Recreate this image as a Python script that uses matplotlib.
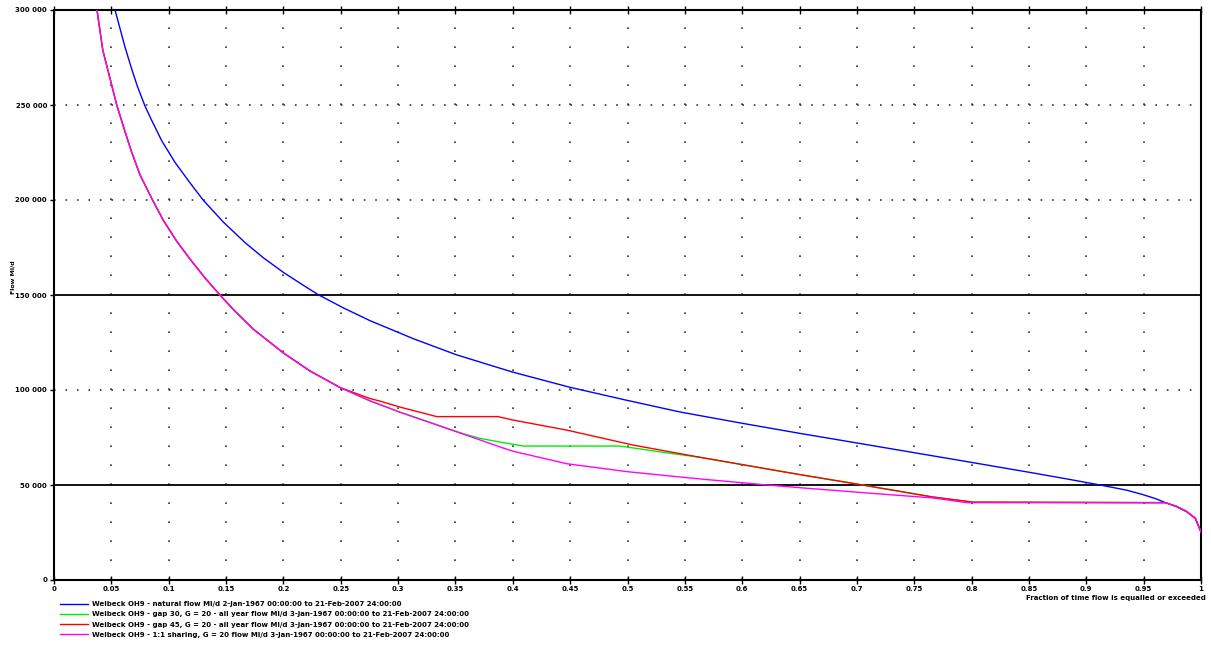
import numpy as np
import matplotlib
matplotlib.use("Agg")
import matplotlib.pyplot as plt
from matplotlib.ticker import FuncFormatter

plt.rcParams['font.family'] = ['DejaVu Sans']
plt.rcParams['lines.scale_dashes'] = False

# ---------------- data ----------------
natural_x = [0.0532, 0.0619, 0.0677, 0.0726, 0.0793, 0.0851, 0.0939, 0.1055, 0.1186,
             0.130, 0.1476, 0.1665, 0.1825, 0.200, 0.2174, 0.230, 0.2523, 0.2755,
             0.3133, 0.351, 0.400, 0.450, 0.4993, 0.546, 0.598, 0.650, 0.709,
             0.752, 0.796, 0.854, 0.883, 0.912, 0.935, 0.949, 0.960, 0.969, 0.979,
             0.9875, 0.995, 1.000]
natural_y = [300000, 280500, 269000, 260000, 249500, 242000, 231200, 219800, 209000,
             200000, 188400, 177600, 169600, 161900, 155100, 150300, 143200, 136500,
             127000, 118500, 109400, 101400, 94600, 88400, 82700, 77200, 71200,
             66800, 62300, 56300, 53200, 50000, 47300, 45000, 42900, 40700, 38600,
             36000, 32500, 25300]

sharing_x = [0.0375, 0.0425, 0.0547, 0.0619, 0.0677, 0.075, 0.0859, 0.0953, 0.107,
             0.1186, 0.1316, 0.1447, 0.1563, 0.1738, 0.200, 0.2232, 0.2494, 0.2755,
             0.3017, 0.351, 0.389, 0.400, 0.447, 0.500, 0.546, 0.563, 0.622,
             0.650, 0.709, 0.766, 0.796, 0.969, 0.979, 0.9875, 0.995, 1.000]
sharing_y = [300000, 279000, 250000, 236000, 225200, 213200, 200000, 189300, 178300,
             168900, 159000, 150000, 142400, 132000, 119500, 110000, 101300, 94300,
             88300, 78000, 70000, 67800, 61200, 57000, 54200, 53200, 50000,
             48600, 45800, 43200, 40700, 40700, 38600, 36000, 32500, 25300]

gap45_x = [0.0375, 0.0425, 0.0547, 0.0619, 0.0677, 0.075, 0.0859, 0.0953, 0.107,
           0.1186, 0.1316, 0.1447, 0.1563, 0.1738, 0.200, 0.2232, 0.2494, 0.2755,
           0.284, 0.3017, 0.319, 0.3336, 0.387, 0.400, 0.447, 0.505, 0.563,
           0.650, 0.700, 0.766, 0.801, 0.969, 0.979, 0.9875, 0.995, 1.000]
gap45_y = [300000, 279000, 250000, 236000, 225200, 213200, 200000, 189300, 178300,
           168900, 159000, 150000, 142400, 132000, 119500, 110000, 101300, 95500,
           94200, 91000, 88300, 86000, 86000, 84200, 78900, 71000, 64600,
           55500, 50500, 43700, 41000, 40700, 38600, 36000, 32500, 25300]

gap30_x = [0.0375, 0.0425, 0.0547, 0.0619, 0.0677, 0.075, 0.0859, 0.0953, 0.107,
           0.1186, 0.1316, 0.1447, 0.1563, 0.1738, 0.200, 0.2232, 0.2494, 0.2755,
           0.3017, 0.330, 0.354, 0.371, 0.389, 0.409, 0.493, 0.505, 0.531,
           0.563, 0.650, 0.700, 0.766, 0.801, 0.969, 0.979, 0.9875, 0.995, 1.000]
gap30_y = [300000, 279000, 250000, 236000, 225200, 213200, 200000, 189300, 178300,
           168900, 159000, 150000, 142400, 132000, 119500, 110000, 101300, 94300,
           88300, 82500, 77500, 74600, 72600, 70500, 70500, 69500, 67200,
           64600, 55500, 50500, 43700, 41000, 40700, 38600, 36000, 32500, 25300]

labels = [
    "Welbeck OH9 - natural flow Ml/d 2-Jan-1967 00:00:00 to 21-Feb-2007 24:00:00",
    "Welbeck OH9 - gap 30, G = 20 - all year flow Ml/d 3-Jan-1967 00:00:00 to 21-Feb-2007 24:00:00",
    "Welbeck OH9 - gap 45, G = 20 - all year flow Ml/d 3-Jan-1967 00:00:00 to 21-Feb-2007 24:00:00",
    "Welbeck OH9 - 1:1 sharing, G = 20 flow Ml/d 3-Jan-1967 00:00:00 to 21-Feb-2007 24:00:00",
]
colors = ['#0000ff', '#00ee00', '#ff0000', '#ff00ff']

xticks = np.round(np.arange(0, 1.0001, 0.05), 2)
yticks = [0, 50000, 100000, 150000, 200000, 250000, 300000]
solid_levels = [50000, 150000]
dotted_levels = [100000, 200000, 250000]

# ---------------- figure ----------------
W, H = 1211, 655
fig = plt.figure(figsize=(W / 100, H / 100), dpi=100)
ax = fig.add_axes([54 / W, 75 / H, (1201 - 54) / W, 570 / H])
ax.set_xlim(0, 1)
ax.set_ylim(0, 300000)

# dotted grid
for xv in xticks[1:-1]:
    ax.axvline(xv, color='#333333', lw=1.2, dashes=(1.2, 12.48), zorder=1)
for yv in dotted_levels:
    ax.axhline(yv, color='#333333', lw=1.2, dashes=(1.2, 7.06), zorder=1)
for yv in solid_levels:
    ax.axhline(yv, color='black', lw=1.3, zorder=1)

series = [(natural_x, natural_y), (gap30_x, gap30_y), (gap45_x, gap45_y), (sharing_x, sharing_y)]
handles = []
for (xs, ys), c, lab, z in zip(series, colors, labels, [3, 4, 5, 6]):
    h, = ax.plot(xs, ys, color=c, lw=1.0, label=lab, zorder=z)
    handles.append(h)

for s in ax.spines.values():
    s.set_linewidth(1.5)

ax.set_xticks(xticks)
ax.set_yticks(yticks)
ax.xaxis.set_major_formatter(FuncFormatter(
    lambda v, p: '0' if v < 1e-9 else ('1' if abs(v - 1) < 1e-9 else f'{v:g}')))
ax.yaxis.set_major_formatter(FuncFormatter(lambda v, p: f'{int(v):,}'.replace(',', ' ')))
ax.tick_params(axis='x', direction='inout', length=6, width=1, top=True, pad=1,
               labelsize=5)
ax.tick_params(axis='y', direction='out', length=3, width=1, pad=2, labelsize=5)
for t in ax.get_xticklabels() + ax.get_yticklabels():
    t.set_fontweight('bold')

fig.text(13 / W, 1 - 277 / H, 'Flow Ml/d', rotation=90, fontsize=4.5,
         fontweight='bold', ha='center', va='center')
fig.text(1206 / W, 1 - 598 / H, 'Fraction of time flow is equalled or exceeded',
         fontsize=5, fontweight='bold', ha='right', va='center')

fig.legend(handles=handles, loc='upper left', bbox_to_anchor=(60 / W, 1 - 601 / H),
           frameon=False, prop={'size': 5, 'weight': 'bold'}, handlelength=4.0,
           handletextpad=0.55, labelspacing=0.62, borderpad=0, borderaxespad=0)

fig.savefig('out.png', dpi=100)
